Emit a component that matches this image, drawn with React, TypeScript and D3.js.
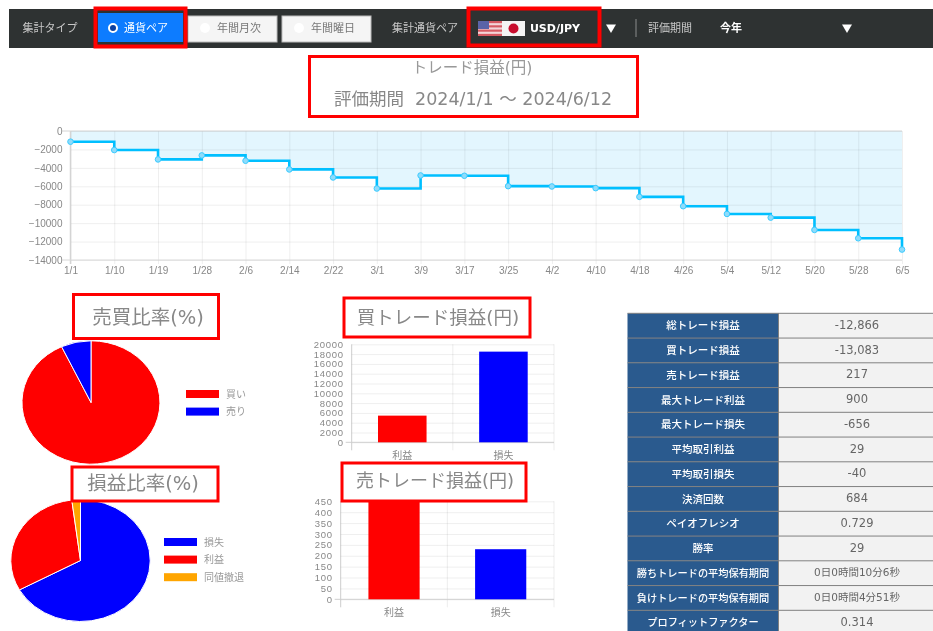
import { useRef, useEffect } from 'react';
import * as d3 from 'd3';

const dateLabels = ['1/1', '1/10', '1/19', '1/28', '2/6', '2/14', '2/22', '3/1', '3/9', '3/17', '3/25', '4/2', '4/10', '4/18', '4/26', '5/4', '5/12', '5/20', '5/28', '6/5'];
const profitValues = [-1160, -2067, -3083, -2650, -3230, -4170, -5040, -6240, -4825, -4860, -5985, -6020, -6200, -7145, -8160, -9000, -9400, -10736, -11640, -12866];

const buySellNames = ['買い', '売り'];
const buySellValues = [93, 7];
const buySellColors = ['#ff0000', '#0000ff'];

const winLossNames = ['損失', '利益', '同値撤退'];
const winLossValues = [67, 31, 2];
const winLossColors = ['#0000ff', '#ff0000', '#ffa500'];

const barNames = ['利益', '損失'];
const barColors = ['#ff0000', '#0000ff'];
const buyBarValues = [5442, 18503];
const sellBarValues = [447, 230];

const statNames = ['総トレード損益', '買トレード損益', '売トレード損益', '最大トレード利益', '最大トレード損失', '平均取引利益', '平均取引損失', '決済回数', 'ペイオフレシオ', '勝率', '勝ちトレードの平均保有期間', '負けトレードの平均保有期間', 'プロフィットファクター'];
const statValues = ['-12,866', '-13,083', '217', '900', '-656', '29', '-40', '684', '0.729', '29', '0日0時間10分6秒', '0日0時間4分51秒', '0.314'];

const JP = '"Noto Sans CJK JP", sans-serif';
const WIDE = `"DejaVu Sans", ${JP}`;
const LATIN = '"Liberation Sans", Arial, sans-serif';

type Sel = d3.Selection<any, unknown, any, any>;

const label = (g: Sel, x: number, y: number, text: string, size: number, fill: string, anchor = 'middle', weight = 400, family = JP) =>
  g.append('text')
    .attr('x', x)
    .attr('y', y)
    .attr('dy', '0.36em')
    .attr('text-anchor', anchor)
    .attr('font-family', family)
    .attr('font-size', size)
    .attr('font-weight', weight)
    .attr('fill', fill)
    .attr('xml:space', 'preserve')
    .text(text);

const redBox = (g: Sel, x: number, y: number, w: number, h: number) =>
  g.append('rect')
    .attr('x', x)
    .attr('y', y)
    .attr('width', w)
    .attr('height', h)
    .attr('fill', '#fff')
    .attr('stroke', '#ff0000')
    .attr('stroke-width', 3);

const drawToolbar = (g: Sel) => {
  g.append('rect').attr('x', 9).attr('y', 9).attr('width', 924).attr('height', 39).attr('fill', '#2f3333');
  label(g, 50, 28, '集計タイプ', 11, '#c8c8c8');

  g.append('rect').attr('x', 98).attr('y', 13).attr('width', 85).attr('height', 29).attr('fill', '#0a7bff');
  g.append('circle').attr('cx', 113).attr('cy', 28).attr('r', 4).attr('fill', '#0a3fa0').attr('stroke', '#fff').attr('stroke-width', 2);
  label(g, 146, 28, '通貨ペア', 11, '#fff');

  [[188, '年間月次'], [282, '年間曜日']].forEach(([x, name]) => {
    const left = x as number;
    g.append('rect').attr('x', left).attr('y', 16).attr('width', 89).attr('height', 26).attr('fill', '#f5f5f5').attr('stroke', '#bbb');
    g.append('circle').attr('cx', left + 17).attr('cy', 28).attr('r', 5).attr('fill', '#fff');
    label(g, left + 51, 28, name as string, 11, '#777');
  });

  label(g, 425, 28, '集計通貨ペア', 11, '#c8c8c8');

  // flags
  const stripes = d3.scaleBand<number>().domain(d3.range(7)).range([21, 36]);
  g.append('rect').attr('x', 478).attr('y', 21).attr('width', 24).attr('height', 15).attr('fill', '#f3d5d8');
  stripes.domain().filter((i) => i % 2 === 0).forEach((i) => {
    g.append('rect').attr('x', 478).attr('y', stripes(i)!).attr('width', 24).attr('height', stripes.bandwidth()).attr('fill', '#d65a64');
  });
  g.append('rect').attr('x', 478).attr('y', 21).attr('width', 11).attr('height', 8).attr('fill', '#5a64a8');
  g.append('rect').attr('x', 502).attr('y', 21).attr('width', 23).attr('height', 15).attr('fill', '#f4f4f4');
  g.append('circle').attr('cx', 513.5).attr('cy', 28.5).attr('r', 5).attr('fill', '#c8102e');

  label(g, 555, 28.5, 'USD/JPY', 11, '#fff', 'middle', 700, '"DejaVu Sans", sans-serif');

  [611, 847].forEach((x) => {
    g.append('path').attr('d', `M${x - 5},24.5 L${x + 5},24.5 L${x},33 Z`).attr('fill', '#fff');
  });
  g.append('line').attr('x1', 636).attr('x2', 636).attr('y1', 19).attr('y2', 37).attr('stroke', '#8a8a8a');
  label(g, 670, 28, '評価期間', 11, '#c8c8c8');
  label(g, 731, 28.5, '今年', 11, '#fff', 'middle', 700);

  redBox(g, 95.5, 8.5, 90, 38).attr('fill', 'none').attr('stroke-width', 4);
  redBox(g, 468.5, 8.5, 131, 37).attr('fill', 'none').attr('stroke-width', 4);
};

const drawLine = (g: Sel) => {
  const x = d3.scalePoint<string>().domain(dateLabels).range([70.5, 902]);
  const y = d3.scaleLinear().domain([-14000, 0]).range([260, 131]);

  g.append('path')
    .attr('d', d3.area<number>()
      .x((_d, i) => x(dateLabels[i])!)
      .y0(y(0))
      .y1((d) => y(d))
      .curve(d3.curveStepAfter)(profitValues))
    .attr('fill', '#e3f6fe');

  const yAxis = g.append('g')
    .attr('transform', 'translate(70.5,0)')
    .call(d3.axisLeft(y).tickValues(d3.range(-14000, 1, 2000)).tickSize(-831.5).tickPadding(8).tickFormat(d3.format('d')));
  const xAxis = g.append('g')
    .attr('transform', 'translate(0,260)')
    .call(d3.axisBottom(x).tickSize(-129).tickPadding(7));
  xAxis.selectAll('.tick').append('line').attr('y2', 4).attr('stroke', '#e2e2e2');
  [yAxis, xAxis].forEach((axis) => {
    axis.select('.domain').remove();
    axis.selectAll('.tick line').attr('stroke', '#1a1a1a').attr('stroke-opacity', 0.07);
    axis.selectAll('text').attr('font-family', LATIN).attr('font-size', 10).attr('fill', '#888');
  });
  g.append('line').attr('x1', 70.5).attr('x2', 70.5).attr('y1', 131).attr('y2', 264).attr('stroke', '#d4d4d4').attr('stroke-width', 1.5);
  g.append('line').attr('x1', 62).attr('x2', 902).attr('y1', 131).attr('y2', 131).attr('stroke', '#d4d4d4');
  g.append('line').attr('x1', 62).attr('x2', 902).attr('y1', 260).attr('y2', 260).attr('stroke', '#d8d8d8');

  g.append('path')
    .attr('d', d3.line<number>()
      .x((_d, i) => x(dateLabels[i])!)
      .y((d) => y(d))
      .curve(d3.curveStepAfter)(profitValues))
    .attr('fill', 'none')
    .attr('stroke', '#00bfff')
    .attr('stroke-width', 2.6);

  g.selectAll('circle.point')
    .data(profitValues)
    .join('circle')
    .attr('class', 'point')
    .attr('cx', (_d, i) => x(dateLabels[i])!)
    .attr('cy', (d) => y(d))
    .attr('r', 2.8)
    .attr('fill', '#8fdcfb')
    .attr('stroke', '#3ccbff')
    .attr('stroke-width', 1);
};

// pies are slightly wider than tall in the screenshot, hence the scale
const drawPie = (g: Sel, cx: number, cy: number, rx: number, ry: number, values: number[], names: string[], colors: string[], legendX: number, legendY: number) => {
  const arcs = d3.pie<number>().sort(null)(values);
  const arc = d3.arc<d3.PieArcDatum<number>>().innerRadius(0).outerRadius(1);
  g.append('g')
    .attr('transform', `translate(${cx},${cy}) scale(${rx},${ry})`)
    .selectAll('path')
    .data(arcs)
    .join('path')
    .attr('d', arc)
    .attr('fill', (_d, i) => colors[i])
    .attr('stroke', '#fff')
    .attr('stroke-width', 1)
    .attr('vector-effect', 'non-scaling-stroke');

  const rows = d3.scaleBand<string>().domain(names).range([legendY, legendY + names.length * 17.6]);
  names.forEach((name, i) => {
    g.append('rect').attr('x', legendX).attr('y', rows(name)!).attr('width', 33).attr('height', 8).attr('fill', colors[i]);
    label(g, legendX + 40, rows(name)! + 4, name, 10, '#999', 'start');
  });
};

const drawBars = (g: Sel, values: number[], max: number, step: number, x0: number, x1: number, yTop: number, yZero: number) => {
  const x = d3.scaleBand<string>().domain(barNames).range([x0, x1]);
  const y = d3.scaleLinear().domain([0, max]).range([yZero, yTop]);

  const yAxis = g.append('g')
    .attr('transform', `translate(${x0},0)`)
    .call(d3.axisLeft(y).tickValues(d3.range(0, max + 1, step)).tickSize(-(x1 - x0)).tickPadding(8).tickFormat(d3.format('d')));
  yAxis.select('.domain').remove();
  yAxis.selectAll('.tick line').attr('stroke', '#1a1a1a').attr('stroke-opacity', 0.07);
  // tick rows are tight: keep the height small and open the digits up to the reference's width
  yAxis.selectAll('text')
    .attr('font-family', LATIN)
    .attr('font-size', 9.5)
    .attr('letter-spacing', 0.7)
    .attr('fill', '#888');

  g.selectAll(null)
    .data([x0, x0 + (x1 - x0) / 2, x1])
    .join('line')
    .attr('x1', (d) => d)
    .attr('x2', (d) => d)
    .attr('y1', yTop)
    .attr('y2', yZero + 8)
    .attr('stroke', '#1a1a1a')
    .attr('stroke-opacity', (_d, i) => (i === 0 ? 0.22 : 0.08));
  g.append('line').attr('x1', x0 - 6).attr('x2', x1).attr('y1', yZero).attr('y2', yZero).attr('stroke', '#cfcfcf');

  g.selectAll(null)
    .data(values)
    .join('rect')
    .attr('x', (_d, i) => x(barNames[i])! + x.bandwidth() * 0.26)
    .attr('width', x.bandwidth() * 0.48)
    .attr('y', (d) => y(d))
    .attr('height', (d) => yZero - y(d))
    .attr('fill', (_d, i) => barColors[i]);

  barNames.forEach((name) => {
    label(g, x(name)! + x.bandwidth() / 2, yZero + 13, name, 10, '#888');
  });
};

const drawTable = (g: Sel) => {
  const rows = d3.scaleBand<string>().domain(statNames).range([313.3, 313.3 + 24.75 * statNames.length]);
  const h = rows.bandwidth();
  statNames.forEach((name, i) => {
    const top = rows(name)!;
    g.append('rect').attr('x', 627.5).attr('y', top).attr('width', 151).attr('height', h).attr('fill', '#2a5a8e');
    g.append('rect').attr('x', 778.5).attr('y', top).attr('width', 155).attr('height', h).attr('fill', '#f2f2f2');
    g.append('line').attr('x1', 627.5).attr('x2', 933).attr('y1', top).attr('y2', top).attr('stroke', '#808080');
    label(g, 703, top + h / 2, name, name.length > 10 ? 10.2 : 10.5, '#fff', 'middle', 500);
    const isTime = statValues[i].includes('時');
    label(g, 857, top + h / 2 - 1, statValues[i], isTime ? 10.5 : 11.5, '#666', 'middle', 400, WIDE);
  });
  g.append('line').attr('x1', 778.5).attr('x2', 778.5).attr('y1', 313).attr('y2', 631).attr('stroke', '#808080');
};

export default function App() {
  const svgRef = useRef<SVGSVGElement>(null);

  useEffect(() => {
    const svg = d3.select(svgRef.current);
    svg.selectAll('*').remove();

    // the reference is a soft, upscaled screenshot
    svg.append('defs')
      .append('filter')
      .attr('id', 'soft')
      .attr('x', 0).attr('y', 0).attr('width', 1).attr('height', 1)
      .append('feGaussianBlur')
      .attr('stdDeviation', 0.6);

    const g = svg.append('g').attr('filter', 'url(#soft)');
    g.append('rect').attr('width', 933).attr('height', 631).attr('fill', '#fff');

    drawToolbar(g);
    drawLine(g);
    drawPie(g, 91, 402.5, 69, 61.7, buySellValues, buySellNames, buySellColors, 186, 390);
    drawPie(g, 80.5, 560.5, 69.7, 61, winLossValues, winLossNames, winLossColors, 164, 538);
    drawBars(g, buyBarValues, 20000, 2000, 351.7, 554, 344.3, 442.3);
    drawBars(g, sellBarValues, 450, 50, 340.7, 554, 501.3, 599.3);
    drawTable(g);

    // title frames sit on top of the charts
    redBox(g, 309.5, 56.5, 328, 60);
    label(g, 472, 67, 'トレード損益(円)', 15.5, '#999', 'middle', 400, WIDE);
    label(g, 473, 99, '評価期間  2024/1/1 〜 2024/6/12', 17.5, '#888', 'middle', 400, WIDE);

    redBox(g, 73.5, 294.5, 145, 44);
    label(g, 148, 317, '売買比率(%)', 19.5, '#888', 'middle', 400, WIDE);
    redBox(g, 72, 467, 146, 34);
    label(g, 143, 483, '損益比率(%)', 19.5, '#888', 'middle', 400, WIDE);
    redBox(g, 344, 298, 186, 39);
    label(g, 438, 317, '買トレード損益(円)', 18.5, '#888', 'middle', 400, WIDE);
    redBox(g, 342, 463, 184, 38);
    label(g, 435, 481, '売トレード損益(円)', 18, '#888', 'middle', 400, WIDE);
  }, []);

  return (
    <svg
      ref={svgRef}
      width={933}
      height={631}
      style={{ position: 'absolute', left: 0, top: 0, display: 'block' }}
    />
  );
}
